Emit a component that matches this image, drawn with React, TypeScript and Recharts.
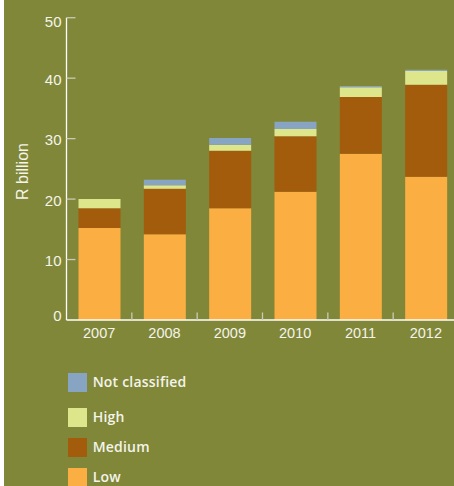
import React from 'react';
import { BarChart, Bar, XAxis, YAxis, Legend, Customized } from 'recharts';

const years = ['2007', '2008', '2009', '2010', '2011', '2012'];
const low = [15.2, 14.2, 18.5, 21.2, 27.5, 23.7];
const medium = [3.3, 7.5, 9.5, 9.2, 9.4, 15.2];
const high = [1.5, 0.6, 1.0, 1.2, 1.6, 2.3];
const notClassified = [0, 0.9, 1.1, 1.2, 0.2, 0.2];
const yTicks = [0, 10, 20, 30, 40, 50];
const yLabel = 'R billion';

const COLORS = {
  bg: '#808738',
  low: '#FBAE42',
  medium: '#A35B0C',
  high: '#DEE68B',
  nc: '#87A4C3',
  text: '#F4F4EA',
  tick: '#C9CBB4',
};

const data = years.map((year, i) => ({
  year,
  low: low[i],
  medium: medium[i],
  high: high[i],
  nc: notClassified[i],
}));

const legendItems = [
  { key: 'nc', name: 'Not classified', color: COLORS.nc, gap: 0 },
  { key: 'high', name: 'High', color: COLORS.high, gap: 16.5 },
  { key: 'medium', name: 'Medium', color: COLORS.medium, gap: 11.5 },
  { key: 'low', name: 'Low', color: COLORS.low, gap: 11 },
];

const YTick = (props: any) => {
  const { x, y, payload } = props;
  const v = payload.value;
  const dy = v === 0 ? -5 : v === 50 ? 4 : 1;
  return (
    <g>
      {v !== 0 && (
        <line x1={x + 5} x2={x + 14} y1={y} y2={y} stroke={COLORS.tick} strokeWidth={1.3} />
      )}
      <text
        x={x}
        y={y + dy}
        textAnchor="end"
        dominantBaseline="central"
        fill={COLORS.text}
        fontSize={15}
        fontFamily="'Liberation Sans', Arial, sans-serif"
      >
        {v}
      </text>
    </g>
  );
};

const XTick = (props: any) => {
  const { x, y, payload } = props;
  const off = payload && typeof payload.offset === 'number' && payload.offset > 0 ? payload.offset : 32.6;
  return (
    <g>
      <line x1={x + off} x2={x + off} y1={y - 7.5} y2={y} stroke={COLORS.tick} strokeWidth={1.3} />
      <text
        x={x}
        y={y + 13}
        textAnchor="middle"
        dominantBaseline="central"
        fill={COLORS.text}
        fontSize={14.5}
        fontFamily="'Liberation Sans', Arial, sans-serif"
      >
        {payload.value}
      </text>
    </g>
  );
};

const LegendContent = () => (
  <div style={{ display: 'flex', flexDirection: 'column' }}>
    {legendItems.map((it) => (
      <div
        key={it.key}
        style={{ display: 'flex', alignItems: 'center', marginTop: it.gap, height: 18.7 }}
      >
        <div style={{ width: 18.7, height: 18.7, background: it.color }} />
        <span
          style={{
            marginLeft: 6,
            color: COLORS.text,
            fontFamily: "'Open Sans', sans-serif",
            fontWeight: 600,
            fontSize: 14,
            letterSpacing: 0.2,
            lineHeight: '18.7px',
            whiteSpace: 'nowrap',
          }}
        >
          {it.name}
        </span>
      </div>
    ))}
  </div>
);

const YLabel = () => (
  <text
    x={22}
    y={171.5}
    transform="rotate(-90 22 171.5)"
    textAnchor="middle"
    dominantBaseline="central"
    fill={COLORS.text}
    fontSize={16}
    fontFamily="'Liberation Sans', Arial, sans-serif"
  >
    {yLabel}
  </text>
);

export default function App() {
  return (
    <div
      style={{
        position: 'absolute',
        left: 0,
        top: 0,
        width: 454,
        height: 486,
        overflow: 'hidden',
        background: '#ffffff',
      }}
    >
      <div
        style={{ position: 'absolute', left: 4, top: 0, width: 450, height: 486, background: COLORS.bg }}
      />
      <div style={{ position: 'absolute', left: 0, top: 0 }}>
        <BarChart
          width={460}
          height={486}
          data={data}
          margin={{ top: 17.7, right: 1.5, left: 0, bottom: 136 }}
          barSize={42}
        >
          <XAxis
            dataKey="year"
            axisLine={{ stroke: '#ffffff', strokeWidth: 1.3 }}
            tickLine={false}
            tickSize={0}
            tickMargin={0}
            height={30}
            tick={<XTick />}
            interval={0}
          />
          <YAxis
            domain={[0, 50]}
            ticks={yTicks}
            axisLine={{ stroke: '#ffffff', strokeWidth: 1.3 }}
            tickLine={false}
            tickSize={0}
            tickMargin={5}
            width={66.5}
            tick={<YTick />}
            interval={0}
          />
          <Legend
            layout="vertical"
            verticalAlign="middle"
            align="center"
            content={<LegendContent />}
            wrapperStyle={{ top: 373, left: 68, width: 200, height: 120 }}
          />
          <Bar dataKey="low" name="Low" stackId="a" fill={COLORS.low} isAnimationActive={false} />
          <Bar dataKey="medium" name="Medium" stackId="a" fill={COLORS.medium} isAnimationActive={false} />
          <Bar dataKey="high" name="High" stackId="a" fill={COLORS.high} isAnimationActive={false} />
          <Bar dataKey="nc" name="Not classified" stackId="a" fill={COLORS.nc} isAnimationActive={false} />
          <Customized component={YLabel} />
        </BarChart>
      </div>
    </div>
  );
}
